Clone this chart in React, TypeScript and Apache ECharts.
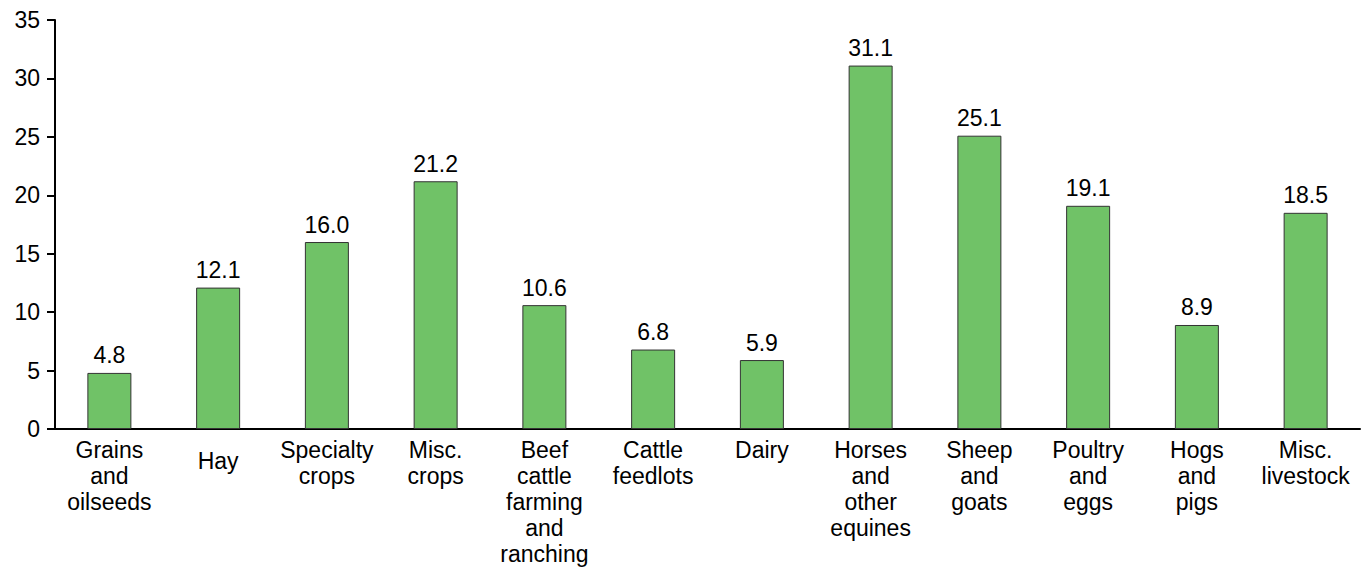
import React, { useEffect, useRef } from "react";
import * as echarts from "echarts";

const categories = [
  "Grains\nand\noilseeds",
  "Hay",
  "Specialty\ncrops",
  "Misc.\ncrops",
  "Beef\ncattle\nfarming\nand\nranching",
  "Cattle\nfeedlots",
  "Dairy",
  "Horses\nand\nother\nequines",
  "Sheep\nand\ngoats",
  "Poultry\nand\neggs",
  "Hogs\nand\npigs",
  "Misc.\nlivestock",
];
const values = [4.8, 12.1, 16.0, 21.2, 10.6, 6.8, 5.9, 31.1, 25.1, 19.1, 8.9, 18.5];
const yTicks = [0, 5, 10, 15, 20, 25, 30, 35];

const FONT = "'Liberation Sans', Arial, Helvetica, sans-serif";

export default function App() {
  const ref = useRef<HTMLDivElement>(null);
  useEffect(() => {
    if (!ref.current) return;
    const chart = echarts.init(ref.current, undefined, { renderer: "svg" });
    chart.setOption({
      animation: false,
      backgroundColor: "#ffffff",
      textStyle: { fontFamily: FONT },
      grid: { left: 55, right: 9, top: 20, bottom: 140, containLabel: false },
      xAxis: {
        type: "category",
        data: categories,
        axisLine: { show: true, lineStyle: { color: "#000", width: 2 } },
        axisTick: { show: false },
        axisLabel: {
          interval: 0,
          color: "#000",
          fontSize: 23,
          lineHeight: 26,
          margin: 8,
          fontFamily: FONT,
          formatter: (v: string) => (v === "Hay" ? "{low|Hay}" : v),
          rich: {
            low: { fontSize: 23, lineHeight: 26, padding: [21, 0, 0, 0], color: "#000", fontFamily: FONT },
          },
        },
      },
      yAxis: {
        type: "value",
        min: yTicks[0],
        max: yTicks[yTicks.length - 1],
        interval: 5,
        splitLine: { show: false },
        axisLine: { show: true, lineStyle: { color: "#000", width: 2 } },
        axisTick: { show: true, length: 8, lineStyle: { color: "#000", width: 2 } },
        axisLabel: { color: "#000", fontSize: 23, margin: 15, fontFamily: FONT },
      },
      series: [
        {
          type: "bar",
          data: values,
          barWidth: 44,
          itemStyle: { color: "#70c267", borderColor: "#333", borderWidth: 1 },
          label: {
            show: true,
            position: "top",
            distance: 6,
            color: "#000",
            fontSize: 23,
            fontFamily: FONT,
            formatter: (p: any) => Number(p.value).toFixed(1),
          },
        },
      ],
    });
    return () => chart.dispose();
  }, []);
  return (
    <div
      ref={ref}
      style={{ position: "fixed", left: 0, top: 0, width: 1369, height: 569 }}
    />
  );
}
